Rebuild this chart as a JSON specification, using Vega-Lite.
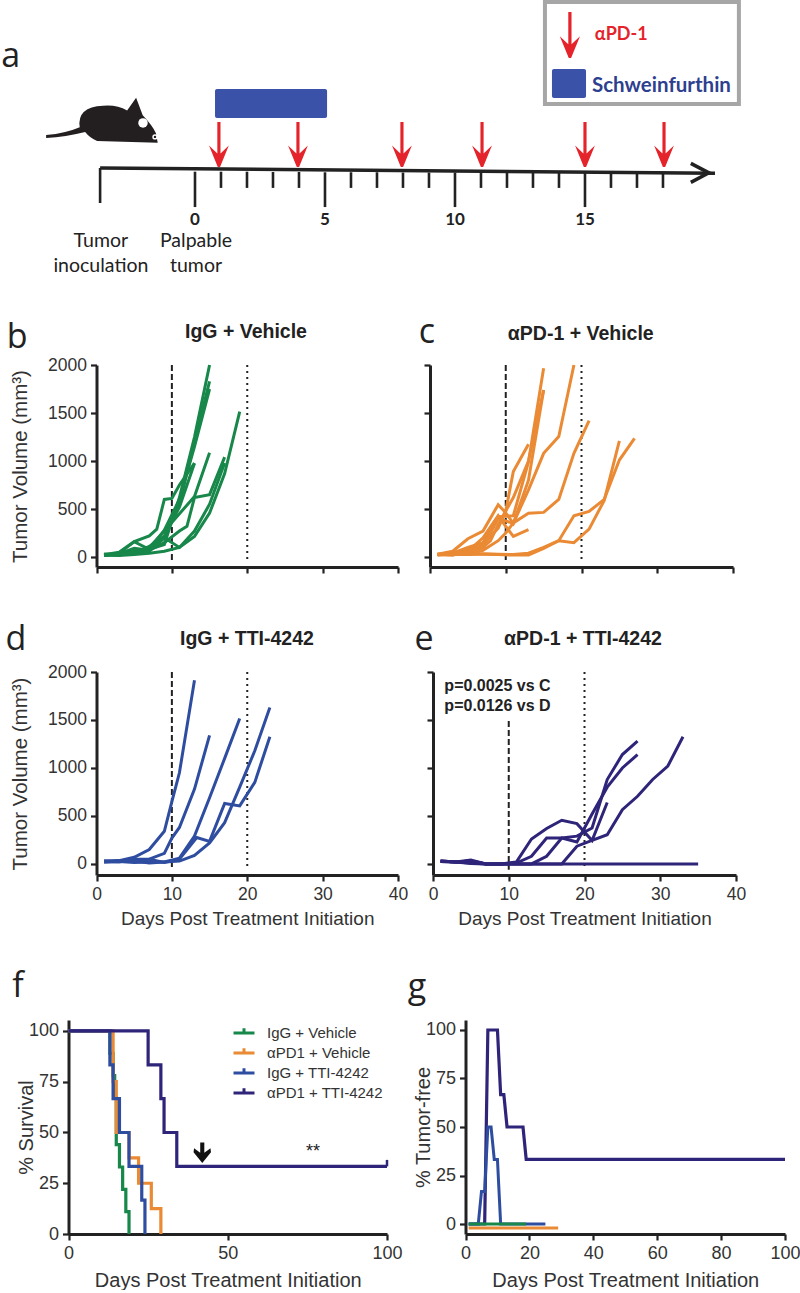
{"$schema":"https://vega.github.io/schema/vega-lite/v6.json","padding":0,"background":"white","columns":2,"spacing":0,"bounds":"flush","align":"each",
"config":{"view":{"stroke":null},"axis":{"grid":false,"domainColor":"#222","domainWidth":3,"tickColor":"#222","tickWidth":2.2,"tickSize":6,"format":"d","labelFont":"Liberation Sans","labelFontSize":17.5,"labelColor":"#333","labelPadding":4,"labelOverlap":false,"labelFlush":false,"titleFont":"Liberation Sans","titleFontWeight":"normal","titleFontSize":19,"titleColor":"#333"},"line":{"strokeWidth":3,"strokeJoin":"miter"},"text":{"font":"Liberation Sans","color":"#222"}},
"concat":[
{"width":400,"height":290,"encoding":{"x":{"field":"d","type":"quantitative","axis":null,"scale":{"domain":[-7.5,23.27],"range":[0,800],"nice":false,"zero":false}},"y":{"field":"v","type":"quantitative","axis":null,"scale":{"domain":[0,100],"nice":false,"zero":false}}},
"layer":[
{"data":{"values":[{"d":0.77,"d2":5.08,"v":69.3,"v2":59.3}]},"mark":{"type":"rect","color":"#3a52a8","cornerRadius":2},"encoding":{"x2":{"field":"d2"},"y2":{"field":"v2"}}},
{"data":{"values":[{"d":-3.65,"v":42.07},{"d":20,"v":40.3}]},"mark":{"type":"line","color":"#222","strokeWidth":3.5}},
{"data":{"values":[{"d":19.4,"v":40.4}]},"mark":{"type":"point","shape":"M-0.9,-1 L1,0 L-0.9,1","size":361,"filled":false,"color":"#222","strokeWidth":3.5,"opacity":1}},
{"data":{"values":[{"d":-3.65,"v":42.07,"v2":30},{"d":0,"v":40.8,"v2":28.6},{"d":5,"v":40.6,"v2":28.6},{"d":10,"v":40.5,"v2":28.6},{"d":15,"v":40.4,"v2":28.6},{"d":1,"v":40.8,"v2":35.2},{"d":2,"v":40.8,"v2":35.2},{"d":3,"v":40.7,"v2":35.2},{"d":4,"v":40.7,"v2":35.2},{"d":6,"v":40.6,"v2":35.2},{"d":7,"v":40.6,"v2":35.2},{"d":8,"v":40.5,"v2":35.2},{"d":9,"v":40.5,"v2":35.2},{"d":11,"v":40.5,"v2":35.2},{"d":12,"v":40.4,"v2":35.2},{"d":13,"v":40.4,"v2":35.2},{"d":14,"v":40.4,"v2":35.2},{"d":16,"v":40.4,"v2":35.2},{"d":17,"v":40.3,"v2":35.2},{"d":18,"v":40.3,"v2":35.2}]},"mark":{"type":"rule","color":"#222","strokeWidth":2.6},"encoding":{"y2":{"field":"v2"}}},
{"data":{"values":[{"d":0.92,"v":50.2},{"d":3.96,"v":50.2},{"d":7.96,"v":50.2},{"d":11.04,"v":50.2},{"d":15,"v":50.2},{"d":18.04,"v":50.2}]},"mark":{"type":"point","shape":"M-0.07,-1 L0.07,-1 L0.07,0.4 L0.44,0.05 L0.05,1 L-0.05,1 L-0.44,0.05 L-0.07,0.4 Z","size":2025,"filled":true,"color":"#e4232a","opacity":1,"strokeWidth":0}},
{"data":{"values":[{"d":-3.58,"v":58.6}]},"mark":{"type":"point","shape":"M-0.93,0.25 Q-0.6,0.22 -0.37,0.12 Q-0.42,-0.22 0.02,-0.24 Q0.25,-0.26 0.42,-0.16 L0.57,-0.37 L0.68,-0.08 Q0.85,0.1 0.9,0.22 L0.93,0.38 L-0.08,0.35 Q-0.2,0.3 -0.28,0.2 Q-0.6,0.28 -0.93,0.3 Z","size":14400,"filled":true,"color":"#231f20","opacity":1,"strokeWidth":0}},
{"data":{"values":[{"d":-2,"v":57.6}]},"mark":{"type":"point","shape":"circle","size":90,"filled":true,"color":"white","opacity":1}},
{"data":{"values":[{"d":-1.54,"v":52.8}]},"mark":{"type":"point","shape":"circle","size":28,"filled":true,"color":"white","opacity":1}},
{"data":{"values":[{"d":-1.54,"v":52.8}]},"mark":{"type":"point","shape":"circle","size":6,"filled":true,"color":"#231f20","opacity":1}},
{"data":{"values":[{"d":0,"v":24.1,"t":"0"},{"d":5,"v":24.1,"t":"5"},{"d":10,"v":24.1,"t":"10"},{"d":15,"v":24.1,"t":"15"}]},"mark":{"type":"text","font":"Lato","fontWeight":"bold","fontSize":17,"align":"center","baseline":"middle"},"encoding":{"text":{"field":"t"}}},
{"data":{"values":[{"d":-3.62,"v":16.9,"t":"Tumor"},{"d":-3.62,"v":8.3,"t":"inoculation"},{"d":0.04,"v":16.9,"t":"Palpable"},{"d":0.04,"v":8.3,"t":"tumor"}]},"mark":{"type":"text","font":"Lato","fontSize":19.5,"align":"center","baseline":"middle"},"encoding":{"text":{"field":"t"}}},
{"data":{"values":[{"d":-7.45,"v":80.3,"t":"a"}]},"mark":{"type":"text","font":"Open Sans","fontSize":34,"align":"left","baseline":"middle"},"encoding":{"text":{"field":"t"}}}
]},
{"width":400,"height":290,"encoding":{"x":{"field":"d","type":"quantitative","axis":null,"scale":{"domain":[-7.5,23.27],"range":[-400,400],"nice":false,"zero":false}},"y":{"field":"v","type":"quantitative","axis":null,"scale":{"domain":[0,100],"nice":false,"zero":false}}},
"layer":[
{"data":{"values":[{"d":13.46,"d2":20.92,"v":99.3,"v2":64.1}]},"mark":{"type":"rect","fill":"white","stroke":"#a6a6a6","strokeWidth":4},"encoding":{"x2":{"field":"d2"},"y2":{"field":"v2"}}},
{"data":{"values":[{"d":13.73,"d2":15.04,"v":76.2,"v2":66.2}]},"mark":{"type":"rect","color":"#3a52a8","cornerRadius":2},"encoding":{"x2":{"field":"d2"},"y2":{"field":"v2"}}},
{"data":{"values":[{"d":14.42,"v":87.9}]},"mark":{"type":"point","shape":"M-0.07,-1 L0.07,-1 L0.07,0.4 L0.44,0.05 L0.05,1 L-0.05,1 L-0.44,0.05 L-0.07,0.4 Z","size":2116,"filled":true,"color":"#e4232a","opacity":1,"strokeWidth":0}},
{"data":{"values":[{"d":15.38,"v":87.9,"t":"αPD-1"}]},"mark":{"type":"text","font":"Lato","fontWeight":"bold","fontSize":18,"color":"#e4232a","align":"left","baseline":"middle"},"encoding":{"text":{"field":"t"}}},
{"data":{"values":[{"d":15.27,"v":70.3,"t":"Schweinfurthin"}]},"mark":{"type":"text","font":"Lato","fontWeight":"bold","fontSize":20.5,"color":"#2f3f8f","align":"left","baseline":"middle"},"encoding":{"text":{"field":"t"}}}
]},
{"width":400,"height":277,"encoding":{"x":{"field":"d","type":"quantitative","title":null,"axis":{"values":[0,10,20,30,40],"labels":false},"scale":{"domain":[0,40],"range":[96.5,398],"nice":false,"zero":false}},"y":{"field":"v","type":"quantitative","title":"Tumor Volume (mm³)","axis":{"values":[0,500,1000,1500,2000],"offset":-96.5,"titlePadding":17,"titleFontSize":20.5},"scale":{"domain":[-104,2000],"range":[277,75],"nice":false,"zero":false}}},
"layer":[
{"data":{"values":[{"d":10,"v":2000,"v2":-50}]},"mark":{"type":"rule","color":"#222","strokeWidth":2,"strokeDash":[6,3]},"encoding":{"y2":{"field":"v2"}}},
{"data":{"values":[{"d":20,"v":2000,"v2":-50}]},"mark":{"type":"rule","color":"#222","strokeWidth":2,"strokeDash":[2,4]},"encoding":{"y2":{"field":"v2"}}},
{"data":{"values":[
{"m":1,"d":1,"v":30},{"m":1,"d":3,"v":30},{"m":1,"d":5,"v":40},{"m":1,"d":7,"v":80},{"m":1,"d":9,"v":130},{"m":1,"d":11,"v":620},{"m":1,"d":13,"v":1250},{"m":1,"d":15,"v":2000},
{"m":2,"d":1,"v":20},{"m":2,"d":3,"v":35},{"m":2,"d":5,"v":90},{"m":2,"d":7,"v":70},{"m":2,"d":9,"v":200},{"m":2,"d":11,"v":550},{"m":2,"d":13,"v":1200},{"m":2,"d":15,"v":1830},
{"m":3,"d":1,"v":15},{"m":3,"d":3,"v":40},{"m":3,"d":5,"v":160},{"m":3,"d":7,"v":80},{"m":3,"d":9,"v":280},{"m":3,"d":11,"v":600},{"m":3,"d":13,"v":1150},{"m":3,"d":15,"v":1750},
{"m":4,"d":1,"v":25},{"m":4,"d":3,"v":50},{"m":4,"d":5,"v":160},{"m":4,"d":7,"v":220},{"m":4,"d":8,"v":290},{"m":4,"d":9,"v":600},{"m":4,"d":10,"v":610},{"m":4,"d":11,"v":750},{"m":4,"d":13,"v":977},
{"m":5,"d":1,"v":15},{"m":5,"d":3,"v":30},{"m":5,"d":5,"v":60},{"m":5,"d":7,"v":70},{"m":5,"d":9,"v":150},{"m":5,"d":11,"v":270},{"m":5,"d":12,"v":320},{"m":5,"d":13,"v":620},{"m":5,"d":15,"v":650},{"m":5,"d":17,"v":1040},
{"m":6,"d":1,"v":30},{"m":6,"d":3,"v":20},{"m":6,"d":5,"v":50},{"m":6,"d":7,"v":100},{"m":6,"d":9,"v":270},{"m":6,"d":11,"v":450},{"m":6,"d":13,"v":630},{"m":6,"d":15,"v":1085},
{"m":7,"d":1,"v":20},{"m":7,"d":3,"v":15},{"m":7,"d":5,"v":25},{"m":7,"d":7,"v":40},{"m":7,"d":9,"v":60},{"m":7,"d":11,"v":100},{"m":7,"d":13,"v":215},{"m":7,"d":15,"v":457},{"m":7,"d":17,"v":870},{"m":7,"d":19,"v":1515},
{"m":8,"d":1,"v":20},{"m":8,"d":3,"v":20},{"m":8,"d":5,"v":50},{"m":8,"d":7,"v":60},{"m":8,"d":9,"v":200},{"m":8,"d":11,"v":100},{"m":8,"d":13,"v":270},{"m":8,"d":15,"v":550},{"m":8,"d":17,"v":980},
{"m":9,"d":1,"v":25},{"m":9,"d":3,"v":35},{"m":9,"d":5,"v":40},{"m":9,"d":7,"v":110},{"m":9,"d":9,"v":220},{"m":9,"d":11,"v":520},{"m":9,"d":13,"v":977}
]},"mark":{"type":"line","color":"#17874a"},"encoding":{"detail":{"field":"m"}}},
{"data":{"values":[{"d":19.83,"v":2344,"t":"IgG + Vehicle"}]},"mark":{"type":"text","fontWeight":"bold","fontSize":19.5,"align":"center","baseline":"middle"},"encoding":{"text":{"field":"t"}}},
{"data":{"values":[{"d":-10.54,"v":2281,"t":"b"}]},"mark":{"type":"text","font":"Open Sans","fontSize":34,"align":"center","baseline":"middle"},"encoding":{"text":{"field":"t"}}}
]},
{"width":400,"height":277,"encoding":{"x":{"field":"d","type":"quantitative","title":null,"axis":{"values":[0,10,20,30,40],"labels":false},"scale":{"domain":[0,40],"range":[30,333],"nice":false,"zero":false}},"y":{"field":"v","type":"quantitative","title":null,"axis":{"values":[0,500,1000,1500,2000],"offset":-30,"labels":false},"scale":{"domain":[-104,2000],"range":[277,75],"nice":false,"zero":false}}},
"layer":[
{"data":{"values":[{"d":10,"v":2000,"v2":-50}]},"mark":{"type":"rule","color":"#222","strokeWidth":2,"strokeDash":[6,3]},"encoding":{"y2":{"field":"v2"}}},
{"data":{"values":[{"d":20,"v":2000,"v2":-50}]},"mark":{"type":"rule","color":"#222","strokeWidth":2,"strokeDash":[2,4]},"encoding":{"y2":{"field":"v2"}}},
{"data":{"values":[
{"m":1,"d":1,"v":20},{"m":1,"d":3,"v":40},{"m":1,"d":5,"v":100},{"m":1,"d":7,"v":150},{"m":1,"d":9,"v":420},{"m":1,"d":11,"v":430},{"m":1,"d":13,"v":990},{"m":1,"d":15,"v":1965},
{"m":2,"d":1,"v":25},{"m":2,"d":3,"v":30},{"m":2,"d":5,"v":80},{"m":2,"d":7,"v":100},{"m":2,"d":9,"v":400},{"m":2,"d":11,"v":350},{"m":2,"d":13,"v":800},{"m":2,"d":15,"v":1740},
{"m":3,"d":1,"v":30},{"m":3,"d":3,"v":60},{"m":3,"d":5,"v":190},{"m":3,"d":7,"v":270},{"m":3,"d":9,"v":545},{"m":3,"d":10,"v":460},{"m":3,"d":11,"v":350},{"m":3,"d":13,"v":700},{"m":3,"d":15,"v":1080},{"m":3,"d":17,"v":1255},{"m":3,"d":19,"v":2000},
{"m":4,"d":1,"v":20},{"m":4,"d":3,"v":30},{"m":4,"d":5,"v":70},{"m":4,"d":7,"v":130},{"m":4,"d":9,"v":300},{"m":4,"d":10,"v":480},{"m":4,"d":11,"v":890},{"m":4,"d":13,"v":1175},
{"m":5,"d":1,"v":25},{"m":5,"d":3,"v":20},{"m":5,"d":5,"v":60},{"m":5,"d":7,"v":200},{"m":5,"d":9,"v":430},{"m":5,"d":10,"v":320},{"m":5,"d":11,"v":215},{"m":5,"d":13,"v":285},
{"m":6,"d":1,"v":30},{"m":6,"d":3,"v":25},{"m":6,"d":5,"v":25},{"m":6,"d":7,"v":70},{"m":6,"d":9,"v":170},{"m":6,"d":10,"v":250},{"m":6,"d":11,"v":355},{"m":6,"d":13,"v":455},{"m":6,"d":15,"v":465},{"m":6,"d":17,"v":600},{"m":6,"d":19,"v":1080},{"m":6,"d":21,"v":1420},
{"m":7,"d":1,"v":30},{"m":7,"d":3,"v":30},{"m":7,"d":5,"v":30},{"m":7,"d":7,"v":30},{"m":7,"d":9,"v":25},{"m":7,"d":11,"v":20},{"m":7,"d":13,"v":20},{"m":7,"d":15,"v":90},{"m":7,"d":17,"v":170},{"m":7,"d":19,"v":150},{"m":7,"d":21,"v":290},{"m":7,"d":23,"v":590},{"m":7,"d":25,"v":1210},
{"m":8,"d":1,"v":30},{"m":8,"d":3,"v":25},{"m":8,"d":5,"v":25},{"m":8,"d":7,"v":35},{"m":8,"d":9,"v":30},{"m":8,"d":11,"v":25},{"m":8,"d":13,"v":40},{"m":8,"d":15,"v":100},{"m":8,"d":17,"v":170},{"m":8,"d":19,"v":430},{"m":8,"d":21,"v":475},{"m":8,"d":23,"v":600},{"m":8,"d":25,"v":1010},{"m":8,"d":27,"v":1235},
{"m":9,"d":1,"v":25},{"m":9,"d":3,"v":20},{"m":9,"d":5,"v":50},{"m":9,"d":7,"v":100},{"m":9,"d":8,"v":170},{"m":9,"d":9,"v":340},{"m":9,"d":11,"v":620},{"m":9,"d":13,"v":1000},{"m":9,"d":15,"v":1740}
]},"mark":{"type":"line","color":"#ea8a34"},"encoding":{"detail":{"field":"m"}}},
{"data":{"values":[{"d":19.9,"v":2323,"t":"αPD-1 + Vehicle"}]},"mark":{"type":"text","fontWeight":"bold","fontSize":19.5,"align":"center","baseline":"middle"},"encoding":{"text":{"field":"t"}}},
{"data":{"values":[{"d":-0.4,"v":2333,"t":"c"}]},"mark":{"type":"text","font":"Open Sans","fontSize":34,"align":"center","baseline":"middle"},"encoding":{"text":{"field":"t"}}}
]},
{"width":400,"height":308,"encoding":{"x":{"field":"d","type":"quantitative","title":"Days Post Treatment Initiation","axis":{"values":[0,10,20,30,40],"titlePadding":7},"scale":{"domain":[0,40],"range":[96.5,398],"nice":false,"zero":false}},"y":{"field":"v","type":"quantitative","title":"Tumor Volume (mm³)","axis":{"values":[0,500,1000,1500,2000],"offset":-96.5,"titlePadding":17,"titleFontSize":20.5},"scale":{"domain":[-115,2000],"range":[308,105],"nice":false,"zero":false}}},
"layer":[
{"data":{"values":[{"d":10,"v":2000,"v2":-60}]},"mark":{"type":"rule","color":"#222","strokeWidth":2,"strokeDash":[6,3]},"encoding":{"y2":{"field":"v2"}}},
{"data":{"values":[{"d":20,"v":2000,"v2":-60}]},"mark":{"type":"rule","color":"#222","strokeWidth":2,"strokeDash":[2,4]},"encoding":{"y2":{"field":"v2"}}},
{"data":{"values":[
{"m":1,"d":1,"v":30},{"m":1,"d":3,"v":35},{"m":1,"d":5,"v":70},{"m":1,"d":7,"v":150},{"m":1,"d":9,"v":340},{"m":1,"d":10,"v":650},{"m":1,"d":11,"v":950},{"m":1,"d":13,"v":1915},
{"m":2,"d":1,"v":20},{"m":2,"d":3,"v":30},{"m":2,"d":5,"v":25},{"m":2,"d":7,"v":50},{"m":2,"d":9,"v":110},{"m":2,"d":10,"v":270},{"m":2,"d":11,"v":380},{"m":2,"d":13,"v":780},{"m":2,"d":15,"v":1340},
{"m":3,"d":1,"v":30},{"m":3,"d":3,"v":25},{"m":3,"d":5,"v":15},{"m":3,"d":7,"v":20},{"m":3,"d":9,"v":20},{"m":3,"d":11,"v":60},{"m":3,"d":13,"v":290},{"m":3,"d":15,"v":690},{"m":3,"d":17,"v":1100},{"m":3,"d":19,"v":1515},
{"m":4,"d":1,"v":25},{"m":4,"d":3,"v":20},{"m":4,"d":5,"v":50},{"m":4,"d":7,"v":50},{"m":4,"d":9,"v":15},{"m":4,"d":11,"v":50},{"m":4,"d":13.3,"v":275},{"m":4,"d":15,"v":235},{"m":4,"d":17,"v":630},{"m":4,"d":19,"v":605},{"m":4,"d":21,"v":850},{"m":4,"d":23,"v":1325},
{"m":5,"d":1,"v":20},{"m":5,"d":3,"v":25},{"m":5,"d":5,"v":30},{"m":5,"d":7,"v":10},{"m":5,"d":9,"v":20},{"m":5,"d":11,"v":30},{"m":5,"d":13,"v":90},{"m":5,"d":15,"v":220},{"m":5,"d":17,"v":430},{"m":5,"d":19,"v":800},{"m":5,"d":21,"v":1180},{"m":5,"d":23,"v":1630}
]},"mark":{"type":"line","color":"#2f4da0"},"encoding":{"detail":{"field":"m"}}},
{"data":{"values":[{"d":19.96,"v":2344,"t":"IgG + TTI-4242"}]},"mark":{"type":"text","fontWeight":"bold","fontSize":19.5,"align":"center","baseline":"middle"},"encoding":{"text":{"field":"t"}}},
{"data":{"values":[{"d":-10.68,"v":2333,"t":"d"}]},"mark":{"type":"text","font":"Open Sans","fontSize":34,"align":"center","baseline":"middle"},"encoding":{"text":{"field":"t"}}}
]},
{"width":400,"height":308,"encoding":{"x":{"field":"d","type":"quantitative","title":"Days Post Treatment Initiation","axis":{"values":[0,10,20,30,40],"titlePadding":7},"scale":{"domain":[0,40],"range":[33,336],"nice":false,"zero":false}},"y":{"field":"v","type":"quantitative","title":null,"axis":{"values":[0,500,1000,1500,2000],"offset":-33,"labels":false},"scale":{"domain":[-115,2000],"range":[308,105],"nice":false,"zero":false}}},
"layer":[
{"data":{"values":[{"d":10,"v":1490,"v2":-60}]},"mark":{"type":"rule","color":"#222","strokeWidth":2,"strokeDash":[6,3]},"encoding":{"y2":{"field":"v2"}}},
{"data":{"values":[{"d":20,"v":2000,"v2":-60}]},"mark":{"type":"rule","color":"#222","strokeWidth":2,"strokeDash":[2,4]},"encoding":{"y2":{"field":"v2"}}},
{"data":{"values":[
{"m":1,"d":1,"v":30},{"m":1,"d":3,"v":20},{"m":1,"d":5,"v":40},{"m":1,"d":7,"v":0},{"m":1,"d":9,"v":0},{"m":1,"d":11,"v":20},{"m":1,"d":13,"v":260},{"m":1,"d":15,"v":370},{"m":1,"d":17,"v":455},{"m":1,"d":19,"v":420},{"m":1,"d":21,"v":245},{"m":1,"d":23,"v":640},
{"m":2,"d":1,"v":25},{"m":2,"d":3,"v":20},{"m":2,"d":5,"v":10},{"m":2,"d":7,"v":0},{"m":2,"d":9,"v":0},{"m":2,"d":11,"v":10},{"m":2,"d":13,"v":80},{"m":2,"d":15,"v":270},{"m":2,"d":17,"v":270},{"m":2,"d":19,"v":290},{"m":2,"d":21,"v":375},{"m":2,"d":23,"v":880},{"m":2,"d":25,"v":1140},{"m":2,"d":27,"v":1280},
{"m":3,"d":1,"v":25},{"m":3,"d":3,"v":20},{"m":3,"d":5,"v":5},{"m":3,"d":7,"v":0},{"m":3,"d":9,"v":0},{"m":3,"d":11,"v":0},{"m":3,"d":13,"v":0},{"m":3,"d":15,"v":80},{"m":3,"d":17,"v":270},{"m":3,"d":19,"v":230},{"m":3,"d":21,"v":520},{"m":3,"d":23,"v":800},{"m":3,"d":25,"v":1000},{"m":3,"d":27,"v":1140},
{"m":4,"d":1,"v":30},{"m":4,"d":3,"v":20},{"m":4,"d":5,"v":30},{"m":4,"d":7,"v":0},{"m":4,"d":17,"v":0},{"m":4,"d":19,"v":185},{"m":4,"d":21,"v":245},{"m":4,"d":23,"v":305},{"m":4,"d":25,"v":565},{"m":4,"d":27,"v":705},{"m":4,"d":29,"v":880},{"m":4,"d":31,"v":1020},{"m":4,"d":33,"v":1325},
{"m":5,"d":1,"v":30},{"m":5,"d":3,"v":20},{"m":5,"d":5,"v":30},{"m":5,"d":7,"v":0},{"m":5,"d":15,"v":0},{"m":5,"d":25,"v":0},{"m":5,"d":35,"v":0}
]},"mark":{"type":"line","color":"#2e2479"},"encoding":{"detail":{"field":"m"}}},
{"data":{"values":[{"d":1.5,"v":1855,"t":"p=0.0025 vs C"},{"d":1.5,"v":1646,"t":"p=0.0126 vs D"}]},"mark":{"type":"text","fontWeight":"bold","fontSize":16,"align":"left","baseline":"middle"},"encoding":{"text":{"field":"t"}}},
{"data":{"values":[{"d":19.8,"v":2344,"t":"αPD-1 + TTI-4242"}]},"mark":{"type":"text","fontWeight":"bold","fontSize":19.5,"align":"center","baseline":"middle"},"encoding":{"text":{"field":"t"}}},
{"data":{"values":[{"d":-1.19,"v":2333,"t":"e"}]},"mark":{"type":"text","font":"Open Sans","fontSize":34,"align":"center","baseline":"middle"},"encoding":{"text":{"field":"t"}}}
]},
{"width":400,"height":359,"encoding":{"x":{"field":"d","type":"quantitative","title":"Days Post Treatment Initiation","axis":{"values":[0,50,100],"labelFontSize":18,"titleFontSize":20,"titlePadding":8},"scale":{"domain":[0,100],"range":[68.5,387],"nice":false,"zero":false}},"y":{"field":"v","type":"quantitative","title":"% Survival","axis":{"values":[0,25,50,75,100],"offset":-68.5,"labelFontSize":18,"titleFontSize":20,"titlePadding":-8},"scale":{"domain":[0,105.4],"range":[359,145],"nice":false,"zero":false}}},
"layer":[
{"data":{"values":[
{"g":"IgG + Vehicle","d":0,"v":100},{"g":"IgG + Vehicle","d":13,"v":89},{"g":"IgG + Vehicle","d":14,"v":78},{"g":"IgG + Vehicle","d":14.5,"v":67},{"g":"IgG + Vehicle","d":15,"v":44},{"g":"IgG + Vehicle","d":16,"v":33},{"g":"IgG + Vehicle","d":17,"v":22},{"g":"IgG + Vehicle","d":18,"v":11},{"g":"IgG + Vehicle","d":19,"v":0},
{"g":"αPD1 + Vehicle","d":0,"v":100},{"g":"αPD1 + Vehicle","d":14,"v":75},{"g":"αPD1 + Vehicle","d":15,"v":50},{"g":"αPD1 + Vehicle","d":19,"v":37.5},{"g":"αPD1 + Vehicle","d":22,"v":25},{"g":"αPD1 + Vehicle","d":26,"v":12.5},{"g":"αPD1 + Vehicle","d":29,"v":0},
{"g":"IgG + TTI-4242","d":0,"v":100},{"g":"IgG + TTI-4242","d":13,"v":83.3},{"g":"IgG + TTI-4242","d":14,"v":66.7},{"g":"IgG + TTI-4242","d":16,"v":50},{"g":"IgG + TTI-4242","d":19,"v":33.3},{"g":"IgG + TTI-4242","d":23,"v":16.7},{"g":"IgG + TTI-4242","d":24,"v":0},
{"g":"αPD1 + TTI-4242","d":0,"v":100},{"g":"αPD1 + TTI-4242","d":25,"v":83.3},{"g":"αPD1 + TTI-4242","d":29,"v":66.7},{"g":"αPD1 + TTI-4242","d":30,"v":50},{"g":"αPD1 + TTI-4242","d":34,"v":33.3},{"g":"αPD1 + TTI-4242","d":100,"v":33.3}
]},"mark":{"type":"line","interpolate":"step-after","strokeWidth":3.2},"encoding":{"color":{"field":"g","type":"nominal","sort":null,"scale":{"domain":["IgG + Vehicle","αPD1 + Vehicle","IgG + TTI-4242","αPD1 + TTI-4242"],"range":["#17874a","#ea8a34","#2f4da0","#2e2479"]},"legend":{"title":null,"orient":"none","legendX":232,"legendY":1021,"symbolType":"M-1,0 L1,0 M0,0 L0,-0.45","symbolSize":441,"symbolStrokeWidth":3,"labelFont":"Liberation Sans","labelFontSize":15,"labelColor":"#333","rowPadding":-3,"labelOffset":11}}}},
{"data":{"values":[{"d":100,"v":33.3,"v2":36.5}]},"mark":{"type":"rule","color":"#2e2479","strokeWidth":2.5},"encoding":{"y2":{"field":"v2"}}},
{"data":{"values":[{"d":42,"v":40}]},"mark":{"type":"point","shape":"M-0.2,-1 L0.2,-1 L0.2,0 L0.8,-0.45 L0.85,-0.05 L0,1 L-0.85,-0.05 L-0.8,-0.45 L-0.2,0 Z","size":420,"filled":true,"color":"#111","opacity":1,"strokeWidth":0}},
{"data":{"values":[{"d":76.8,"v":40.4,"t":"**"}]},"mark":{"type":"text","fontSize":18,"align":"center","baseline":"middle"},"encoding":{"text":{"field":"t"}}},
{"data":{"values":[{"d":-15.9,"v":121.7,"t":"f"}]},"mark":{"type":"text","font":"Open Sans","fontSize":34,"align":"center","baseline":"middle"},"encoding":{"text":{"field":"t"}}}
]},
{"width":400,"height":359,"encoding":{"x":{"field":"d","type":"quantitative","title":"Days Post Treatment Initiation","axis":{"values":[0,20,40,60,80,100],"labelFontSize":18,"titleFontSize":20,"titlePadding":8},"scale":{"domain":[0,100],"range":[65.5,385],"nice":false,"zero":false}},"y":{"field":"v","type":"quantitative","title":"% Tumor-free","axis":{"values":[0,25,50,75,100],"offset":-65.5,"labelFontSize":18,"titleFontSize":20,"titlePadding":-8},"scale":{"domain":[-5.15,105.15],"range":[359,145],"nice":false,"zero":false}}},
"layer":[
{"data":{"values":[
{"g":"n","d":1,"v":0},{"g":"n","d":6,"v":0},{"g":"n","d":7,"v":100},{"g":"n","d":10,"v":100},{"g":"n","d":11,"v":66.7},{"g":"n","d":12,"v":66.7},{"g":"n","d":13,"v":50},{"g":"n","d":18,"v":50},{"g":"n","d":19,"v":33.3},{"g":"n","d":100,"v":33.3}
]},"mark":{"type":"line","color":"#2e2479","strokeWidth":3.2}},
{"data":{"values":[
{"g":"b","d":1,"v":0},{"g":"b","d":4,"v":0},{"g":"b","d":5,"v":16.7},{"g":"b","d":6,"v":16.7},{"g":"b","d":7,"v":50},{"g":"b","d":8,"v":50},{"g":"b","d":9,"v":33.3},{"g":"b","d":10,"v":33.3},{"g":"b","d":11,"v":0},{"g":"b","d":25,"v":0}
]},"mark":{"type":"line","color":"#2f4da0","strokeWidth":3}},
{"data":{"values":[{"g":"o","d":1,"v":-2},{"g":"o","d":29,"v":-2}]},"mark":{"type":"line","color":"#ea8a34","strokeWidth":3}},
{"data":{"values":[{"g":"g","d":1,"v":0},{"g":"g","d":19,"v":0}]},"mark":{"type":"line","color":"#17874a","strokeWidth":3}},
{"data":{"values":[{"d":-15.2,"v":121.6,"t":"g"}]},"mark":{"type":"text","font":"Open Sans","fontSize":34,"align":"center","baseline":"middle"},"encoding":{"text":{"field":"t"}}}
]}
]}
